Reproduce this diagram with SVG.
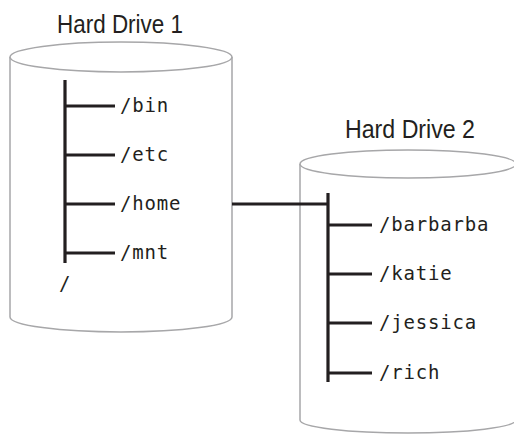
<svg xmlns="http://www.w3.org/2000/svg" width="514" height="435" viewBox="0 0 514 435">
<style>
.cyl{fill:#fff;stroke:#a7a7a9;stroke-width:1.5}
.title{font-family:"Liberation Sans",Arial,sans-serif;font-size:25px;fill:#231f20}
.path{font-family:"DejaVu Sans Mono","Liberation Mono",monospace;font-size:19px;letter-spacing:0.8px;fill:#231f20}
.tree{stroke:#231f20;stroke-width:3.2;fill:none}
</style>
<rect width="514" height="435" fill="#fff"/>
<g id="drive1">
<path class="cyl" d="M10,57 L10,317 A111,15 0 0 0 232,317 L232,57"/>
<ellipse class="cyl" cx="121" cy="57" rx="111" ry="15"/>
<text class="title" x="120" y="33" text-anchor="middle" textLength="126" lengthAdjust="spacingAndGlyphs">Hard Drive 1</text>
<path class="tree" d="M65,80 V263 M65,106 H115 M65,155 H115 M65,204 H115 M65,253 H115"/>
<text class="path" x="120" y="112">/bin</text>
<text class="path" x="120" y="161">/etc</text>
<text class="path" x="120" y="210">/home</text>
<text class="path" x="120" y="259">/mnt</text>
<text class="path" x="59" y="290">/</text>
</g>
<g id="drive2">
<path class="cyl" d="M300,164 L300,420 A108,13 0 0 0 516,420 L516,164"/>
<ellipse class="cyl" cx="408" cy="164" rx="108" ry="14"/>
<text class="title" x="410" y="138" text-anchor="middle" textLength="130" lengthAdjust="spacingAndGlyphs">Hard Drive 2</text>
<path class="tree" d="M328,193 V382 M328,225 H372 M328,274 H372 M328,323 H372 M328,373 H372"/>
<text class="path" x="379" y="231">/barbarba</text>
<text class="path" x="379" y="280">/katie</text>
<text class="path" x="379" y="329">/jessica</text>
<text class="path" x="379" y="379">/rich</text>
</g>
<g id="connectors">
<path class="tree" d="M232,204 H328"/>
</g>
</svg>
